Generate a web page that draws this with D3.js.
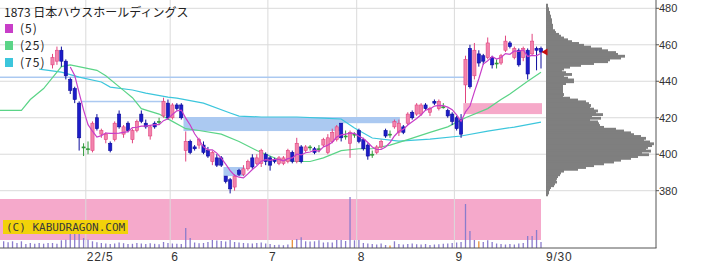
<!DOCTYPE html>
<html>
<head>
<meta charset="utf-8">
<script src="https://cdn.jsdelivr.net/npm/d3@7"></script>
<style>
  html, body { margin: 0; padding: 0; background: #fff; }
  svg { display: block; }
</style>
</head>
<body>
<svg id="chart" width="705" height="266"></svg>
<script>
// daily candles, index 0 = first visible candle (late April 2022)
const openP = [449, 451, 457, 451, 441, 436, 428, 404, 403, 402,
  420, 411, 408, 406, 408, 422, 411, 417, 408, 413,
  422, 417, 410, 417, 418, 421, 428, 420, 427, 427,
  402, 407, 404, 405, 405, 402, 396, 398, 398, 388,
  386, 382, 391, 389, 392, 398, 395, 395, 400, 398,
  397, 395, 395, 396, 401, 396, 404, 402, 404, 403,
  403, 405, 401, 407, 408, 417, 410, 406, 411, 413,
  408, 405, 400, 401, 404, 413, 411, 415, 412, 415,
  417, 423, 422, 422, 427, 423, 429, 425, 426, 424,
  422, 420, 419, 438, 458, 443, 455, 454, 453, 453,
  450, 450, 457, 461, 453, 457, 453, 457, 455, 458, 458];
const highP = [455, 459, 459, 452, 442, 437, 429, 406, 407, 418,
  422, 414, 412, 407, 418, 424, 416, 418, 414, 419,
  424, 419, 416, 418, 420, 431, 430, 428, 428, 428,
  412.5, 408, 405, 409, 407, 404, 402, 400, 399, 388,
  387, 389, 392, 394, 397, 400, 400, 403, 401, 399,
  398, 399, 399, 403, 402, 409, 405, 405, 405, 404,
  405, 409, 411, 414, 416, 417, 413, 413, 412, 414,
  409, 406, 402, 405, 408, 414, 413, 419, 419, 416,
  423, 424, 428, 428, 428, 426, 430, 430, 428, 425,
  423, 421, 422, 454, 460, 461, 457, 455, 464, 454,
  452, 455, 465, 462, 459, 458, 459, 458, 466, 459, 459];
const lowP = [447, 449, 448, 441, 433, 428, 402, 399, 400, 401,
  413, 409, 406, 401, 407, 414, 409, 412, 406, 412,
  417, 414, 408, 414, 416, 420, 419, 419, 424, 419,
  396, 400, 402, 403, 400, 398, 394, 393, 393, 384,
  378.5, 380, 388, 388, 391, 392, 394, 393, 394, 391,
  395, 394, 394, 395, 395, 395, 395, 401, 402, 400,
  401, 404, 400, 406, 407, 407, 408, 398, 409, 406,
  402, 397, 398, 400, 403, 409, 409, 414, 410, 411,
  416, 419, 421, 421, 424, 421, 427, 424, 425, 420,
  416, 413, 409, 428, 436, 441, 448, 449, 452, 447,
  447, 449, 456, 458, 452, 448, 451, 441, 454, 446, 447];
const closeP = [453, 457, 451, 443, 435, 430, 409, 404, 403, 417,
  414, 413, 411, 402, 417, 415, 415, 413, 413, 418,
  418, 415, 415, 415, 418, 429, 420, 427, 425, 420,
  407, 401, 403, 408, 401, 399, 401, 394, 394, 385,
  381, 388, 389, 392, 396, 393, 398, 402, 396, 394,
  396, 398, 398, 402, 396, 406, 396, 404, 404, 401,
  403, 408, 409, 412, 415, 409, 410, 412, 411, 407,
  403, 399, 400, 404, 407, 410, 411, 418, 417, 412,
  422, 420, 427, 427, 425, 425, 428, 429, 426, 421,
  418, 414, 411, 452, 437, 457, 450, 451, 461, 449,
  450, 454, 462, 459, 458, 449, 458, 444, 462, 457, 456];

// volume bars start 11 sessions before the first candle
const volStart = -11;
const volumes = [67, 57, 67, 50, 67, 40, 50, 43, 50, 43, 50,
  50, 43, 77, 83, 143, 150, 150, 100, 83, 67,
  57, 50, 45, 40, 45, 55, 48, 40, 42, 50,
  45, 40, 48, 42, 38, 60, 50, 45, 42, 40,
  200, 100, 55, 48, 50, 60, 80, 75, 70, 65,
  80, 60, 55, 50, 48, 45, 50, 55, 45, 40,
  30, 32, 28, 35, 80, 90, 107, 67, 65, 67,
  77, 55, 57, 55, 80, 80, 70, 510, 77, 80,
  50, 45, 40, 35, 45, 30, 25, 67, 40, 35,
  40, 45, 38, 35, 40, 30, 35, 38, 42, 45,
  50, 55, 60, 440, 170, 80, 67, 60, 77, 60,
  45, 40, 35, 40, 35, 45, 50, 120, 120, 180, 60];
const orangeVolDays = [54, 76, 96];

// moving averages (day index, price)
const ma25Days = [-12, -7, -5, -2, 1, 2, 4, 10, 12, 16, 18, 20, 24, 27, 30, 33, 38, 42, 46, 51,
  55, 58, 61, 65, 69, 72, 76, 80, 85, 89, 93, 98, 101, 103, 107, 110];
const ma25Vals = [424, 424, 430, 436, 445, 448, 449, 446, 443, 435, 431, 425, 422, 418, 414, 413, 411, 407, 402, 397,
  396, 396, 398, 402, 403, 403, 405, 408, 412, 415, 420, 425, 430, 433, 440, 445];
const ma75Days = [-3, 2, 6, 11, 13, 18, 21, 26, 28, 34, 40, 42, 47, 55, 61, 65, 68, 72, 78, 85, 92, 98, 104, 110];
const ma75Vals = [446.7, 445, 442.3, 439.6, 436.8, 435.2, 433.5, 431.3, 430.8, 428, 422.6, 420.9,
  420.4, 420.4, 419.8, 419.3, 414.4, 408.9, 407.2, 408.3, 410, 412.7, 414.9, 417.6];

// price windows (gaps): from day, to day, low, high, direction
const gapFrom = [-12, 7, 30, 65, 39, 93];
const gapTo = [93, 25, 65, 78, 43, 110];
const gapLow = [441.8, 428.7, 412.7, 417, 388, 422];
const gapHigh = [442.6, 429.3, 420.4, 420.4, 393, 428];
const gapDir = ['down', 'down', 'down', 'down', 'down', 'up'];

// volume by price, one bin per yen from 482 down to 378
const profileTop = 482;
const profile = [2, 2, 3, 3, 4, 4, 5, 5, 6, 6,
  6, 7, 7, 7, 9, 10, 13, 15, 18, 22,
  26, 33, 38, 45, 56, 62, 70, 72, 79, 75,
  64, 62, 48, 35, 24, 18, 16, 20, 26, 18,
  22, 28, 28, 20, 17, 17, 17, 17, 17, 18,
  17, 24, 32, 40, 43, 45, 44, 48, 52, 50,
  57, 46, 55, 44, 52, 53, 54, 58, 70, 78,
  85, 88, 95, 100, 98, 104, 108, 106, 102, 100,
  105, 96, 103, 92, 85, 75, 68, 58, 48, 40,
  32, 18, 15, 14, 12, 11, 10, 11, 9, 8,
  5, 4, 3, 3, 2];

const priceTicks = [480, 460, 440, 420, 400, 380];
const monthLabels = ['22/5', '6', '7', '8', '9', '9/30'];
const monthDays = [8, 27, 49, 69, 91, 110];
const legendLabels = ['(5)', '(25)', '(75)'];
const title = '1873 日本ハウスホールディングス';

const colors = {
  up: '#f283ad', upLine: '#e2457f', down: '#1c1cc8', downLine: '#0c0c9c', even: '#2f9a3a',
  ma5: '#c83ec8', ma25: '#5bd487', ma75: '#3cc6dc',
  gapDown: '#abc9f1', gapUp: '#f6a9c9', grid: '#dadada', axis: '#555',
};

const svg = d3.select('#chart');
const x = d3.scaleLinear().domain([0, 110]).range([52.5, 541]);
const y = d3.scaleLinear().domain([380, 480]).range([190.7, 8.3]);
const yVol = d3.scaleLinear().domain([0, 510]).range([248, 197]);
const xProf = d3.scaleLinear().domain([0, 108]).range([546, 654]);
const half = (x(1) - x(0)) / 2;

svg.append('defs').append('clipPath').attr('id', 'price-clip')
  .append('rect').attr('x', 0).attr('y', 0).attr('width', 545).attr('height', 197);

// horizontal grid
svg.append('g').selectAll('line').data(priceTicks).join('line')
  .attr('x1', 0).attr('x2', 656)
  .attr('y1', d => y(d)).attr('y2', d => y(d))
  .attr('stroke', colors.grid).attr('stroke-width', 1);

// volume panel background
svg.append('rect').attr('x', 0).attr('y', 199).attr('width', 541).attr('height', 41)
  .attr('fill', '#f5a9cb');

// vertical month grid
svg.append('g').selectAll('line').data(monthDays.slice(0, 5)).join('line')
  .attr('x1', d => x(d) - half).attr('x2', d => x(d) - half)
  .attr('y1', 0).attr('y2', 248)
  .attr('stroke', colors.grid).attr('stroke-width', 1);

// volume by price histogram (bins overlap a little so no seams show)
svg.append('g').selectAll('rect').data(profile).join('rect')
  .attr('x', xProf(0))
  .attr('y', (d, k) => y(profileTop - k + 0.5))
  .attr('width', d => xProf(d) - xProf(0))
  .attr('height', y(0) - y(1) + 1)
  .attr('fill', '#7f7f7f');

const price = svg.append('g').attr('clip-path', 'url(#price-clip)');

// windows
price.append('g').selectAll('rect').data(gapFrom).join('rect')
  .attr('x', (d, k) => x(d) - half)
  .attr('y', (d, k) => y(gapHigh[k]))
  .attr('width', (d, k) => x(gapTo[k]) + 1 - x(d) + half)
  .attr('height', (d, k) => Math.max(1.5, y(gapLow[k]) - y(gapHigh[k])))
  .attr('fill', (d, k) => (gapDir[k] === 'up' ? colors.gapUp : colors.gapDown));

// moving averages 25 / 75
const maLine = d3.line().x(d => x(d[0])).y(d => y(d[1]));
price.append('path').datum(d3.zip(ma75Days, ma75Vals))
  .attr('d', maLine).attr('fill', 'none').attr('stroke', colors.ma75).attr('stroke-width', 1.2);
price.append('path').datum(d3.zip(ma25Days, ma25Vals))
  .attr('d', maLine).attr('fill', 'none').attr('stroke', colors.ma25).attr('stroke-width', 1.2);

// candles
const kind = i => (closeP[i] > openP[i] ? 'up' : closeP[i] < openP[i] ? 'down' : 'even');
const lineColor = i => ({ up: colors.upLine, down: colors.downLine, even: colors.even })[kind(i)];
const candles = price.append('g').selectAll('g').data(d3.range(openP.length)).join('g');
candles.append('line')
  .attr('x1', i => x(i)).attr('x2', i => x(i))
  .attr('y1', i => y(highP[i])).attr('y2', i => y(lowP[i]))
  .attr('stroke', lineColor).attr('stroke-width', 1);
candles.append('rect')
  .attr('x', i => x(i) - 1.6).attr('width', 3.2)
  .attr('y', i => y(Math.max(openP[i], closeP[i])))
  .attr('height', i => Math.max(1, Math.abs(y(openP[i]) - y(closeP[i]))))
  .attr('fill', i => ({ up: colors.up, down: colors.down, even: colors.even })[kind(i)])
  .attr('stroke', lineColor).attr('stroke-width', 0.6);

// 5 day average of the closes
const ma5 = closeP.map((c, i) => (i < 4 ? null : d3.mean(closeP.slice(i - 4, i + 1))));
price.append('path').datum(ma5)
  .attr('d', d3.line().defined(d => d !== null).x((d, i) => x(i)).y(d => y(d)))
  .attr('fill', 'none').attr('stroke', colors.ma5).attr('stroke-width', 1.2);

// last price marker
const last = closeP[closeP.length - 1];
svg.append('path')
  .attr('d', `M${x(110) + 0.5},${y(last)} l6,-3.5 l0,7 z`)
  .attr('fill', '#c80f0f');

// volume bars
svg.append('g').selectAll('line').data(volumes).join('line')
  .attr('x1', (d, k) => x(k + volStart)).attr('x2', (d, k) => x(k + volStart))
  .attr('y1', yVol(0)).attr('y2', d => yVol(d))
  .attr('stroke', (d, k) => (orangeVolDays.includes(k + volStart) ? '#e8903a' : '#8a7ccc'))
  .attr('stroke-width', 1.3);

// axes frame
svg.append('line').attr('x1', 656).attr('x2', 656).attr('y1', 0).attr('y2', 248)
  .attr('stroke', colors.axis).attr('stroke-width', 1);
svg.append('line').attr('x1', 0).attr('x2', 656.5).attr('y1', 248).attr('y2', 248)
  .attr('stroke', colors.axis).attr('stroke-width', 1);

const yAxis = svg.append('g');
yAxis.selectAll('line').data(priceTicks).join('line')
  .attr('x1', 656).attr('x2', 659).attr('y1', d => y(d)).attr('y2', d => y(d))
  .attr('stroke', colors.axis);
yAxis.selectAll('text').data(priceTicks).join('text')
  .attr('x', 659).attr('y', d => y(d) + 4)
  .attr('font-family', 'Liberation Sans, Arial, sans-serif').attr('font-size', 11)
  .attr('fill', '#333').text(d => d);

svg.append('g').selectAll('text').data(monthLabels).join('text')
  .attr('x', (d, k) => (k === monthLabels.length - 1 ? x(monthDays[k]) + 5 : x(monthDays[k]) - half + 1))
  .attr('y', 261)
  .attr('font-family', 'Liberation Sans, Arial, sans-serif').attr('font-size', 12)
  .attr('letter-spacing', 0.8).attr('fill', '#333').text(d => d);

// title and legend
svg.append('text').attr('x', 4).attr('y', 17)
  .attr('font-family', 'Noto Sans CJK JP, sans-serif').attr('font-size', 12)
  .attr('fill', '#222').text(title);
const legendColors = [colors.ma5, colors.ma25, colors.ma75];
const legend = svg.append('g').selectAll('g').data(legendLabels).join('g')
  .attr('transform', (d, k) => `translate(5, ${24 + k * 17})`);
legend.append('rect').attr('width', 8).attr('height', 9)
  .attr('fill', (d, k) => legendColors[k]);
legend.append('text').attr('x', 15).attr('y', 8.5)
  .attr('font-family', 'Noto Sans CJK JP, sans-serif').attr('font-size', 12)
  .attr('letter-spacing', 1).attr('fill', '#222').text(d => d);

// copyright badge
svg.append('rect').attr('x', 3).attr('y', 220).attr('width', 125).attr('height', 14)
  .attr('fill', '#f2d20a');
svg.append('text').attr('x', 6).attr('y', 231)
  .attr('font-family', 'DejaVu Sans Mono, monospace').attr('font-size', 11)
  .attr('fill', '#3a3a3a').text('(C) KABUDRAGON.COM');
</script>
</body>
</html>
